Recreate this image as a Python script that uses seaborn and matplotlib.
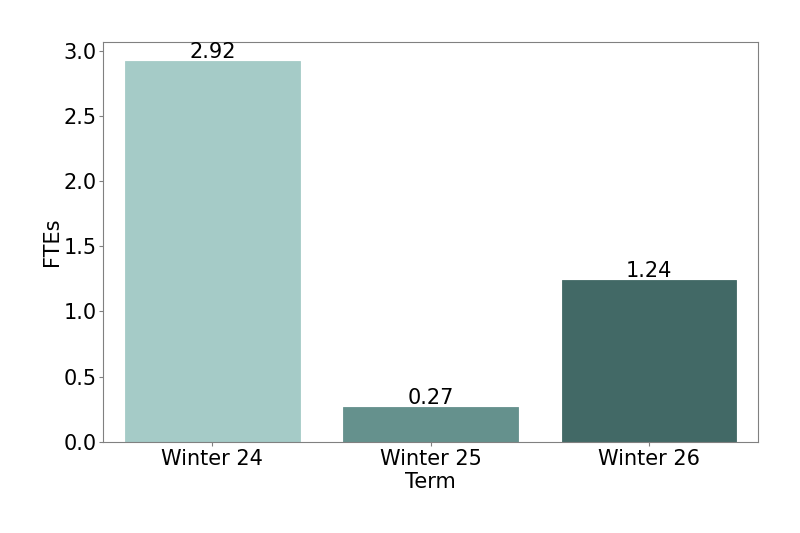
import matplotlib
matplotlib.use("Agg")
import matplotlib.pyplot as plt
import seaborn as sns
import pandas as pd

terms = ["Winter 24", "Winter 25", "Winter 26"]
ftes = [2.92, 0.27, 1.24]
colors = ["#a5cbc7", "#65918d", "#426966"]

df = pd.DataFrame({"Term": terms, "FTEs": ftes})

fig, ax = plt.subplots(figsize=(8, 5.33), dpi=100)
fig.subplots_adjust(left=0.129, right=0.9475, top=0.921, bottom=0.171)

sns.barplot(data=df, x="Term", y="FTEs", hue="Term", palette=colors,
            saturation=1, legend=False, ax=ax, linewidth=0.6)
for patch, c in zip(ax.patches, colors):
    patch.set_edgecolor(c)

# value labels sit right on top of the bars
for i, v in enumerate(ftes):
    ax.text(i, v - 0.01, f"{v:.2f}", ha="center", va="bottom", fontsize=15)

for s in ax.spines.values():
    s.set_color("#808080")
ax.tick_params(axis="both", labelsize=15, color="#808080", length=3)
ax.tick_params(axis="y", pad=1.5)
ax.tick_params(axis="x", pad=2)
ax.set_xlabel("Term", fontsize=15, labelpad=2)
ax.set_ylabel("FTEs", fontsize=15, labelpad=1)

fig.savefig("out.png", dpi=100)
